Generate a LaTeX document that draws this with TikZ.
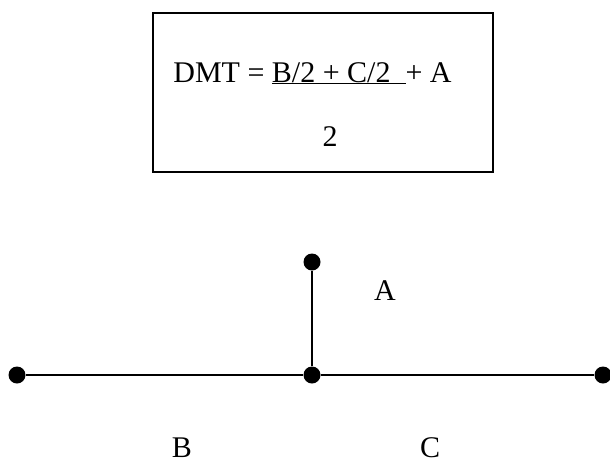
\documentclass[tikz,border=0pt]{standalone}
\usepackage{fontspec}
\setmainfont{Liberation Serif}
\begin{document}
\begin{tikzpicture}[x=1pt, y=-1pt, font=\fontsize{30}{36}\selectfont,
  frame/.style={draw, line width=1.8pt, minimum width=340pt, minimum height=159pt, inner sep=0pt},
  dot/.style={circle, fill=black, inner sep=0pt, minimum size=17pt},
  seg/.style={line width=1.5pt},
  lbl/.style={inner sep=0pt, anchor=base}]
\useasboundingbox (0,0) rectangle (610,459);
% formula box
\node[frame] (box) at (323,92.5) {};
\node[lbl] (num) at (312.5,82) {DMT = \underline{B/2 + C/2\ \ }+ A};
\node[lbl] (den) at (330,146) {2};
% tree
\node[dot] (left) at (17,375) {};
\node[dot] (mid) at (312,375) {};
\node[dot] (right) at (603,375) {};
\node[dot] (top) at (312,262) {};
\draw[seg] (left) -- (mid) -- (right);
\draw[seg] (mid) -- (top);
\node[lbl] (la) at (385,300) {A};
\node[lbl] (lb) at (182,457) {B};
\node[lbl] (lc) at (430,457) {C};
\end{tikzpicture}
\end{document}
